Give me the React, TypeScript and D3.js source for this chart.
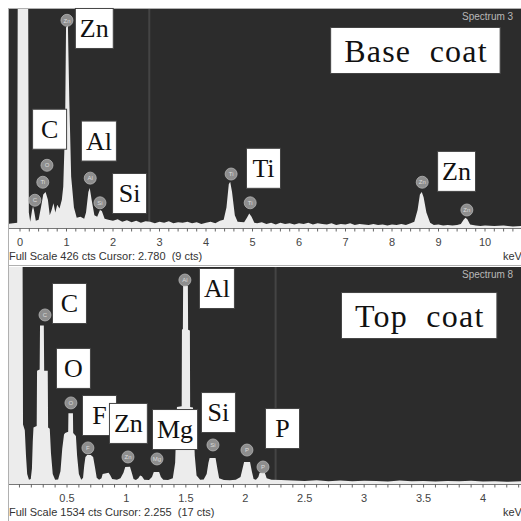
import React, { useEffect, useRef } from 'react';
import * as d3 from 'd3';

type Pt = [number, number];
type Tag = [string, number, number];

// Base coat spectrum, [keV, counts], full scale 426 cts
const baseSpectrum: Pt[] = [
  [-0.24, 8], [-0.06, 10], [-0.045, 600], [0.17, 600], [0.19, 30],
  [0.22, 12], [0.26, 35], [0.28, 42], [0.3, 35], [0.34, 14],
  [0.4, 16], [0.45, 40], [0.5, 65], [0.55, 70], [0.6, 55], [0.64, 25],
  [0.68, 35], [0.72, 48], [0.76, 30], [0.8, 45], [0.85, 38], [0.9, 55],
  [0.93, 80], [0.97, 200], [0.99, 390], [1.03, 395], [1.06, 250], [1.1, 100], [1.16, 40], [1.22, 20],
  [1.3, 22], [1.38, 18],
  [1.42, 30], [1.47, 70], [1.5, 78], [1.54, 55], [1.6, 25],
  [1.66, 22], [1.72, 35], [1.76, 33], [1.82, 18],
  [1.9, 16], [2.0, 14], [2.1, 17], [2.2, 12], [2.3, 15], [2.4, 11], [2.5, 14], [2.6, 10], [2.7, 13],
  [2.8, 12], [2.9, 9], [3.0, 12], [3.1, 10], [3.2, 13], [3.3, 9], [3.4, 11], [3.5, 10], [3.6, 12],
  [3.7, 9], [3.8, 11], [3.9, 8], [4.0, 10], [4.1, 12], [4.2, 9], [4.3, 14],
  [4.38, 16], [4.44, 40], [4.49, 85], [4.52, 90], [4.56, 70], [4.62, 25], [4.68, 12],
  [4.82, 11], [4.88, 20], [4.93, 28], [4.98, 22], [5.04, 10],
  [5.1, 9], [5.2, 11], [5.3, 8], [5.4, 10], [5.5, 7], [5.6, 10], [5.7, 8], [5.8, 9], [5.9, 7],
  [6.0, 9], [6.1, 8], [6.2, 10], [6.3, 7], [6.4, 9], [6.5, 8], [6.6, 7], [6.7, 9], [6.8, 6],
  [6.9, 8], [7.0, 7], [7.1, 9], [7.2, 6], [7.3, 8], [7.4, 7], [7.5, 6], [7.6, 8], [7.7, 6],
  [7.8, 7], [7.9, 5], [8.0, 7], [8.1, 6], [8.2, 8], [8.3, 6], [8.4, 9],
  [8.48, 12], [8.55, 35], [8.6, 65], [8.64, 70], [8.68, 60], [8.74, 30], [8.82, 10],
  [8.9, 6], [9.0, 7], [9.1, 5], [9.2, 6], [9.3, 5], [9.4, 6],
  [9.48, 8], [9.54, 16], [9.58, 20], [9.62, 17], [9.68, 7],
  [9.8, 5], [9.9, 4], [10.0, 5], [10.2, 4], [10.4, 5], [10.6, 3], [10.8, 4],
];

// Top coat spectrum, [keV, counts], full scale 1534 cts
const topSpectrum: Pt[] = [
  [0, 2000], [0.125, 2000], [0.13, 420], [0.145, 380],
  [0.155, 200], [0.165, 70], [0.18, 30], [0.195, 35], [0.205, 110], [0.212, 300], [0.218, 400],
  [0.245, 410], [0.248, 800], [0.27, 810], [0.273, 1120], [0.305, 1120], [0.308, 800], [0.338, 800],
  [0.341, 400], [0.355, 390],
  [0.365, 220], [0.38, 70], [0.4, 30], [0.425, 32], [0.445, 90], [0.46, 250], [0.475, 350],
  [0.484, 360], [0.51, 370], [0.512, 500], [0.55, 500], [0.552, 360], [0.575, 340],
  [0.585, 200], [0.6, 70], [0.62, 30], [0.635, 45], [0.645, 130],
  [0.655, 190], [0.67, 205], [0.7, 205], [0.72, 190], [0.735, 120],
  [0.75, 45], [0.77, 30], [0.79, 40], [0.8, 70],
  [0.82, 75], [0.85, 80], [0.865, 60], [0.88, 35], [0.92, 30], [0.95, 40], [0.975, 80],
  [0.99, 120], [1.03, 122], [1.045, 80],
  [1.06, 35], [1.08, 28], [1.1, 40],
  [1.115, 60], [1.13, 55], [1.15, 30], [1.19, 28], [1.215, 50],
  [1.23, 85], [1.275, 85], [1.29, 50],
  [1.31, 30], [1.35, 28], [1.39, 40], [1.41, 150],
  [1.425, 545], [1.465, 550], [1.467, 1090], [1.475, 1095], [1.477, 1400], [1.517, 1400],
  [1.519, 1090], [1.534, 1085], [1.536, 545], [1.56, 540], [1.575, 200],
  [1.59, 60], [1.62, 30], [1.65, 32], [1.675, 70], [1.69, 150],
  [1.7, 184], [1.75, 184], [1.765, 110],
  [1.78, 40], [1.82, 28], [1.87, 26], [1.92, 30], [1.96, 50], [1.98, 120],
  [1.99, 155], [2.04, 155], [2.055, 90],
  [2.07, 35], [2.09, 30], [2.11, 50],
  [2.12, 78], [2.165, 78], [2.18, 40], [2.22, 30], [2.3, 28],
  [2.4, 25], [2.5, 22], [2.6, 27], [2.7, 20], [2.8, 24], [2.9, 19], [3.0, 23], [3.1, 21],
  [3.2, 18], [3.3, 24], [3.4, 20], [3.5, 22], [3.6, 17], [3.7, 21], [3.8, 19], [3.9, 23],
  [4.0, 18], [4.1, 20], [4.2, 16], [4.32, 19],
];

// peak markers: [symbol, keV, counts]
const baseMarkers: Tag[] = [
  ['C', 0.32, 54], ['Ti', 0.49, 89], ['O', 0.58, 122], ['Zn', 1.01, 404], ['Al', 1.51, 97],
  ['Si', 1.72, 49], ['Ti', 4.54, 105], ['Ti', 4.95, 49], ['Zn', 8.65, 89], ['Zn', 9.61, 35],
];
const topMarkers: Tag[] = [
  ['C', 0.315, 1195], ['O', 0.533, 573], ['F', 0.676, 255], ['Zn', 1.013, 191], ['Mg', 1.257, 177],
  ['Al', 1.492, 1442], ['Si', 1.728, 276], ['P', 2.014, 240], ['P', 2.149, 120],
];

// boxed element labels: [text, keV of left edge, counts of top edge]
const baseLabels: Tag[] = [
  ['Zn', 1.18, 428], ['C', 0.26, 232], ['Al', 1.31, 209], ['Si', 1.98, 107],
  ['Ti', 4.86, 156], ['Zn', 8.97, 150],
];
const topLabels: Tag[] = [
  ['C', 0.3735, 1421], ['O', 0.407, 962], ['F', 0.626, 629], ['Zn', 0.853, 573],
  ['Mg', 1.215, 530], ['Al', 1.61, 1527], ['Si', 1.627, 650], ['P', 2.166, 537],
];

const baseTitle: Tag = ['Base\u00a0\u00a0coat', 6.67, 391];
const topTitle: Tag = ['Top\u00a0\u00a0coat', 2.805, 1357];

const baseTicks = d3.range(0, 11);
const topTicks = [0.5, 1, 1.5, 2, 2.5, 3, 3.5, 4];

const W = 521;
const LEFT = 9;

interface PanelProps {
  id: string;
  frameTop: number;
  plotTop: number;
  axisY: number;
  x: d3.ScaleLinear<number, number>;
  fullScale: number;
  spectrum: Pt[];
  markers: Tag[];
  labels: Tag[];
  title: Tag;
  ticks: number[];
  minorStep: number;
  cursor: number;
  footer: string;
  name: string;
}

function drawPanel(svg: d3.Selection<SVGSVGElement, unknown, null, undefined>, p: PanelProps) {
  const g = svg.append('g');
  const y = d3.scaleLinear().domain([0, p.fullScale]).range([p.axisY, p.plotTop]);
  const [x0, x1] = [LEFT, W];
  const sans = 'Liberation Sans, Arial, sans-serif';

  // frame
  g.append('rect')
    .attr('x', 8.5).attr('y', p.frameTop + 0.5)
    .attr('width', W).attr('height', p.axisY - p.frameTop + 37)
    .attr('fill', '#fff').attr('stroke', '#b0b0b0');

  g.append('clipPath').attr('id', p.id)
    .append('rect').attr('x', x0).attr('y', p.plotTop).attr('width', x1 - x0).attr('height', p.axisY - p.plotTop);

  g.append('rect')
    .attr('x', x0).attr('y', p.plotTop).attr('width', x1 - x0).attr('height', p.axisY - p.plotTop)
    .attr('fill', '#2c2c2c');

  // cursor line
  g.append('line')
    .attr('x1', p.x(p.cursor)).attr('x2', p.x(p.cursor))
    .attr('y1', p.plotTop).attr('y2', p.axisY)
    .attr('stroke', '#444').attr('stroke-width', 2);

  const area = d3.area<Pt>()
    .x(d => p.x(d[0]))
    .y0(p.axisY)
    .y1(d => y(d[1]));

  g.append('path')
    .datum(p.spectrum)
    .attr('clip-path', `url(#${p.id})`)
    .attr('d', area)
    .attr('fill', '#ececec');

  // axis
  g.append('line')
    .attr('x1', x0).attr('x2', x1).attr('y1', p.axisY + 0.5).attr('y2', p.axisY + 0.5)
    .attr('stroke', '#777');

  const d0 = Math.max(0, p.x.invert(x0));
  const d1 = p.x.invert(x1);
  const minor = d3.range(Math.ceil(d0 / p.minorStep) * p.minorStep, d1, p.minorStep);
  g.selectAll('.minor').data(minor).enter().append('line')
    .attr('x1', d => p.x(d)).attr('x2', d => p.x(d))
    .attr('y1', p.axisY).attr('y2', p.axisY + 3.5)
    .attr('stroke', '#666');

  g.selectAll('.tl').data(p.ticks).enter().append('text')
    .attr('x', d => p.x(d)).attr('y', p.axisY + 18)
    .attr('text-anchor', 'middle')
    .attr('font-family', sans)
    .attr('font-size', 11).attr('fill', '#444')
    .text(d => String(d));

  g.append('text')
    .attr('x', 9).attr('y', p.axisY + 32)
    .attr('font-family', sans)
    .attr('font-size', 11).attr('fill', '#333')
    .style('white-space', 'pre')
    .text(p.footer);

  g.append('text')
    .attr('x', 503).attr('y', p.axisY + 32)
    .attr('font-family', sans)
    .attr('font-size', 11).attr('fill', '#333')
    .text('keV');

  g.append('text')
    .attr('x', 462).attr('y', p.plotTop + 11)
    .attr('font-family', sans)
    .attr('font-size', 10).attr('fill', '#b8b8b8')
    .text(p.name);

  // peak markers
  const m = g.selectAll('.mk').data(p.markers).enter().append('g')
    .attr('transform', d => `translate(${p.x(d[1])},${y(d[2])})`);
  m.append('circle').attr('r', 6).attr('fill', '#8e8e8e').attr('stroke', '#b5b5b5').attr('stroke-width', 0.8);
  m.append('text')
    .attr('y', 2.2).attr('text-anchor', 'middle')
    .attr('font-family', sans)
    .attr('font-size', 6).attr('fill', '#dcdcdc')
    .text(d => d[0]);

  // boxed labels
  const box = (t: Tag, size: number, h: number, base: number, pad: number, minW: number, ls: number) => {
    const lg = g.append('g');
    const r = lg.append('rect');
    const tx = lg.append('text')
      .attr('font-family', 'Liberation Serif, Times New Roman, serif')
      .attr('font-size', size).attr('fill', '#111')
      .attr('letter-spacing', ls)
      .attr('text-anchor', 'middle')
      .text(t[0]);
    const tw = (tx.node() as SVGTextElement).getComputedTextLength();
    const w = Math.max(minW, tw + pad);
    const bx = p.x(t[1]);
    const by = y(t[2]);
    r.attr('x', bx + 0.5).attr('y', by + 0.5).attr('width', w).attr('height', h)
      .attr('fill', '#fff').attr('stroke', '#444').attr('stroke-width', 1);
    tx.attr('x', bx + 0.5 + w / 2 + ls / 2).attr('y', by + base);
  };

  p.labels.forEach(t => box(t, 26, 40, 29, 9, 34, 0));
  box(p.title, 32, 46, 35, 26, 0, 1.2);
}

export default function App() {
  const ref = useRef<SVGSVGElement>(null);

  useEffect(() => {
    if (!ref.current) return;
    const svg = d3.select(ref.current);
    svg.selectAll('*').remove();

    svg.append('rect').attr('width', W).attr('height', W).attr('fill', '#fff');

    drawPanel(svg, {
      id: 'clip-base',
      frameTop: 8,
      plotTop: 9,
      axisY: 228,
      x: d3.scaleLinear().domain([0, 10]).range([20, 485]),
      fullScale: 426,
      spectrum: baseSpectrum,
      markers: baseMarkers,
      labels: baseLabels,
      title: baseTitle,
      ticks: baseTicks,
      minorStep: 0.2,
      cursor: 2.78,
      footer: 'Full Scale 426 cts Cursor: 2.780  (9 cts)',
      name: 'Spectrum 3',
    });

    drawPanel(svg, {
      id: 'clip-top',
      frameTop: 265,
      plotTop: 267,
      axisY: 484,
      x: d3.scaleLinear().domain([0.5, 4]).range([67, 483]),
      fullScale: 1534,
      spectrum: topSpectrum,
      markers: topMarkers,
      labels: topLabels,
      title: topTitle,
      ticks: topTicks,
      minorStep: 0.1,
      cursor: 2.255,
      footer: 'Full Scale 1534 cts Cursor: 2.255  (17 cts)',
      name: 'Spectrum 8',
    });
  }, []);

  return (
    <svg
      ref={ref}
      width={W}
      height={W}
      style={{ position: 'absolute', left: 0, top: 0, display: 'block' }}
    />
  );
}
